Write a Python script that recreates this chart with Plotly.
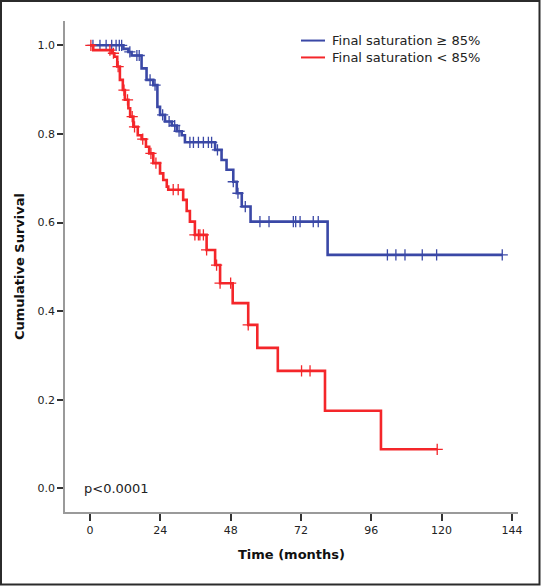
import plotly.graph_objects as go
import bisect

# ---- data ----
blue_name = "Final saturation ≥ 85%"
red_name = "Final saturation < 85%"

blue_times = [0, 11.4, 13.1, 14.2, 17.6, 19.3, 21.6, 23.0, 23.9, 25.6, 27.9, 29.6, 31.3, 32.4,
              42.7, 44.9, 46.6, 48.9, 50.1, 51.8, 54.8, 81.1, 140.7]
blue_surv = [1.0, 0.992, 0.985, 0.977, 0.948, 0.922, 0.910, 0.861, 0.843, 0.828, 0.819, 0.806, 0.797, 0.781,
             0.764, 0.741, 0.719, 0.692, 0.666, 0.636, 0.602, 0.527, 0.527]
blue_censored = [1.0, 3.4, 5.5, 7.4, 8.9, 10.0, 10.8, 13.6, 16.0, 16.8, 20.5, 22.2, 24.8, 27.0,
                 28.9, 30.4, 34.1, 35.3, 37.0, 38.7, 40.4, 41.5, 43.5, 48.9, 50.5, 53.0, 58.0, 61.1,
                 69.4, 70.2, 71.7, 76.2, 77.9, 101.5, 104.4, 107.5, 113.4, 118.3, 140.7]

red_times = [0, 1.1, 7.4, 8.3, 9.3, 10.2, 11.2, 11.9, 13.1, 13.7, 14.8, 16.3, 17.6, 19.1, 20.2, 21.6,
             23.9, 25.0, 26.2, 26.7, 31.8, 33.0, 34.1, 35.8, 39.8, 42.7, 44.4, 48.7, 54.0, 57.1, 64.1,
             80.2, 99.3, 118.5]
red_surv = [1.0, 0.989, 0.982, 0.974, 0.952, 0.922, 0.899, 0.877, 0.858, 0.839, 0.816, 0.797, 0.788,
            0.771, 0.756, 0.734, 0.711, 0.696, 0.681, 0.674, 0.651, 0.626, 0.602, 0.572, 0.538, 0.504,
            0.463, 0.418, 0.369, 0.317, 0.265, 0.175, 0.088, 0.088]
red_censored = [0.3, 6.8, 8.0, 9.6, 11.6, 12.8, 14.4, 15.2, 18.0, 20.8, 22.5, 28.4, 30.1, 35.8, 37.0,
                37.5, 38.7, 39.8, 43.2, 44.4, 48.0, 54.0, 72.2, 75.1, 118.5]

x_ticks = [0, 24, 48, 72, 96, 120, 144]
y_ticks = [0.0, 0.2, 0.4, 0.6, 0.8, 1.0]
p_text = "p<0.0001"

BLUE = "#3a48a6"
RED = "#f4262a"


def surv_at(times, surv, t):
    i = bisect.bisect_right(times, t) - 1
    return surv[max(i, 0)]


fig = go.Figure()
for times, surv, cens, col, name in [
    (blue_times, blue_surv, blue_censored, BLUE, blue_name),
    (red_times, red_surv, red_censored, RED, red_name),
]:
    fig.add_trace(go.Scatter(x=times, y=surv, mode="lines", line=dict(color=col, width=2.6, shape="hv"),
                             name=name, showlegend=False))
    fig.add_trace(go.Scatter(x=cens, y=[surv_at(times, surv, t) for t in cens], mode="markers",
                             marker=dict(symbol="cross-thin", size=8, color=col,
                                         line=dict(color=col, width=1.3)),
                             showlegend=False, hoverinfo="skip"))

W, H = 541, 586
L, R, T, B = 65, 23, 21, 74
pw, ph = W - L - R, H - T - B


def px(X):
    return (X - L) / pw


def py(Y):
    return (H - B - Y) / ph


LEG_MID = 49.0
LEG_HALF = 8.45
shapes = [
    # outer frame
    dict(type="rect", xref="paper", yref="paper", x0=px(1), x1=px(539.5), y0=py(584.5), y1=py(1),
         line=dict(color="#2b2b2b", width=2)),
    # legend samples
    dict(type="line", xref="paper", yref="paper", x0=px(301), x1=px(325),
         y0=py(LEG_MID - LEG_HALF), y1=py(LEG_MID - LEG_HALF), line=dict(color=BLUE, width=2)),
    dict(type="line", xref="paper", yref="paper", x0=px(301), x1=px(325),
         y0=py(LEG_MID + LEG_HALF), y1=py(LEG_MID + LEG_HALF), line=dict(color=RED, width=2)),
]
annotations = [
    dict(xref="paper", yref="paper", x=px(330), y=py(LEG_MID), text=blue_name + "<br>" + red_name,
         showarrow=False, align="left",
         xanchor="left", yanchor="middle", font=dict(family="DejaVu Sans", size=13, color="#222")),
    dict(xref="paper", yref="y", x=px(82), y=0.0, text=p_text, showarrow=False,
         xanchor="left", yanchor="middle", font=dict(family="DejaVu Sans", size=13, color="#222")),
]

x0pix, kx = 90, 2.93
y0pix, ky = 488.3, 443.0
fig.update_layout(
    width=W, height=H,
    margin=dict(l=L, r=R, t=T, b=B),
    paper_bgcolor="white", plot_bgcolor="white",
    showlegend=False,
    shapes=shapes, annotations=annotations,
    xaxis=dict(range=[(L - x0pix) / kx, (W - R - x0pix) / kx], tickvals=x_ticks,
               showgrid=False, zeroline=False, showline=True, linecolor="#9a9a9a", linewidth=1.5,
               ticks="outside", ticklen=7, tickwidth=1.5, tickcolor="#333",
               tickfont=dict(family="DejaVu Sans", size=11, color="#222"),
               title=dict(text="<b>Time (months)</b>", standoff=14,
                          font=dict(family="DejaVu Sans", size=13, color="#111"))),
    yaxis=dict(range=[-(H - B - y0pix) / ky, 1 + (y0pix - ky - T) / ky], tickvals=y_ticks,
               tickformat=".1f",
               showgrid=False, zeroline=False, showline=True, linecolor="#9a9a9a", linewidth=1.5,
               ticks="outside", ticklen=6, tickwidth=1.5, tickcolor="#333",
               tickfont=dict(family="DejaVu Sans", size=11, color="#222"),
               title=dict(text="<b>Cumulative Survival</b>", standoff=10,
                          font=dict(family="DejaVu Sans", size=13, color="#111"))),
)

fig.write_html("out.html", config={"displayModeBar": False},
               post_script="document.body.style.margin='0';document.body.style.overflow='hidden';")
